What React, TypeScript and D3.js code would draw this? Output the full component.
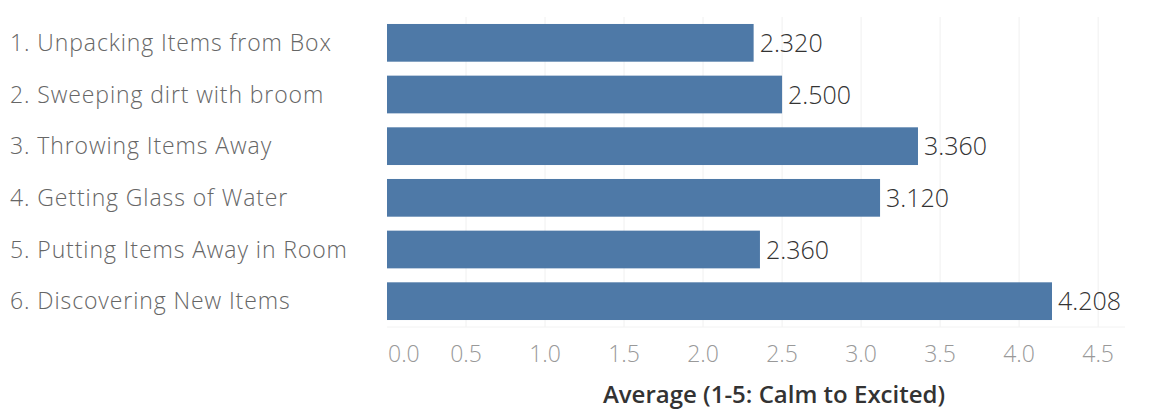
import React from "react";
import * as d3 from "d3";

const categories = [
  "1. Unpacking Items from Box",
  "2. Sweeping dirt with broom",
  "3. Throwing Items Away",
  "4. Getting Glass of Water",
  "5. Putting Items Away in Room",
  "6. Discovering New Items",
];
const averages = [2.32, 2.5, 3.36, 3.12, 2.36, 4.208];
const tickValues = [0, 0.5, 1, 1.5, 2, 2.5, 3, 3.5, 4, 4.5];
const axisTitle = "Average (1-5: Calm to Excited)";

const W = 1153;
const H = 412;
const plot = { left: 387, right: 1125, top: 17, bottom: 327 };
const FONT = "'Open Sans', sans-serif";

export default function App() {
  const x = d3.scaleLinear().domain([0, 4.67]).range([plot.left, plot.right]);
  const y = d3
    .scaleBand<string>()
    .domain(categories)
    .range([plot.top, plot.bottom])
    .paddingInner(0.27)
    .paddingOuter(0.135);
  const fmt = d3.format(".3f");
  const tickFmt = d3.format(".1f");

  return (
    <svg
      width={W}
      height={H}
      style={{ position: "absolute", left: 0, top: 0, background: "#fff" }}
    >
      {/* vertical gridlines */}
      {tickValues.slice(1).map((t) => (
        <line
          key={"g" + t}
          x1={x(t)}
          x2={x(t)}
          y1={plot.top}
          y2={plot.bottom}
          stroke="#f0f0f0"
          strokeWidth={1}
        />
      ))}
      <line
        x1={plot.left}
        x2={plot.right}
        y1={plot.bottom}
        y2={plot.bottom}
        stroke="#f2f2f2"
      />
      {/* bars */}
      {categories.map((c, i) => (
        <g key={c}>
          <rect
            x={x(0)}
            y={y(c)}
            width={x(averages[i]) - x(0)}
            height={y.bandwidth()}
            fill="#4e79a7"
          />
          <text
            x={x(averages[i]) + 6}
            y={(y(c) as number) + y.bandwidth() / 2}
            dy="0.36em"
            fontFamily={FONT}
            fontWeight={300}
            fontSize={25}
            fill="#333"
          >
            {fmt(averages[i])}
          </text>
          <text
            x={10}
            y={(y(c) as number) + y.bandwidth() / 2}
            dy="0.36em"
            fontFamily={FONT}
            fontWeight={300}
            fontSize={23}
            letterSpacing={0.9}
            fill="#666"
          >
            {c}
          </text>
        </g>
      ))}
      {/* x-axis tick labels */}
      {tickValues.map((t) => (
        <text
          key={"t" + t}
          x={t === 0 ? x(0) + 1 : x(t)}
          y={354}
          dy="0.36em"
          textAnchor={t === 0 ? "start" : "middle"}
          fontFamily={FONT}
          fontWeight={300}
          fontSize={23}
          fill="#999"
        >
          {tickFmt(t)}
        </text>
      ))}
      <text
        x={774}
        y={394}
        dy="0.36em"
        textAnchor="middle"
        fontFamily={FONT}
        fontWeight={600}
        fontSize={24}
        fill="#333"
      >
        {axisTitle}
      </text>
    </svg>
  );
}
